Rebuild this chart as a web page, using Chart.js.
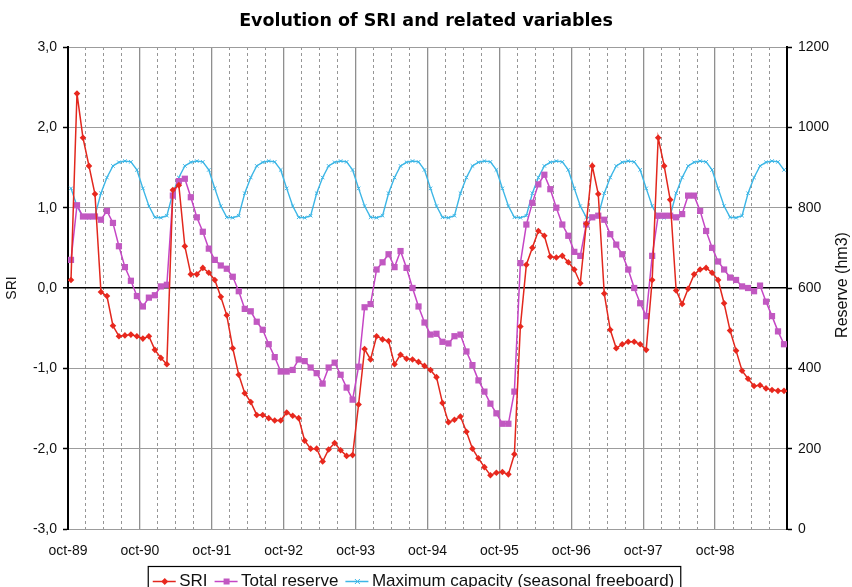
<!DOCTYPE html>
<html>
<head>
<meta charset="utf-8">
<script src="https://cdn.jsdelivr.net/npm/chart.js@4.4.1/dist/chart.umd.min.js"></script>
<style>
  html, body { margin: 0; padding: 0; background: #fff; }
</style>
</head>
<body>
<canvas id="chart" width="852" height="587"></canvas>
<script>
  // x axis tick labels, one per hydrological year (month index 0, 12, 24 ...)
  const yearLabels = ['oct-89', 'oct-90', 'oct-91', 'oct-92', 'oct-93', 'oct-94', 'oct-95', 'oct-96', 'oct-97', 'oct-98'];

  // SRI, monthly values oct-89 .. sep-99
  const sri = [
    0.10, 2.42, 1.87, 1.52, 1.17, -0.05, -0.10, -0.47, -0.60, -0.59, -0.58, -0.60,
    -0.63, -0.60, -0.77, -0.87, -0.95, 1.22, 1.28, 0.52, 0.17, 0.17, 0.25, 0.19,
    0.10, -0.11, -0.34, -0.75, -1.08, -1.31, -1.42, -1.58, -1.58, -1.62, -1.65, -1.65,
    -1.55, -1.59, -1.62, -1.90, -2.00, -2.00, -2.16, -2.01, -1.93, -2.02, -2.09, -2.08,
    -1.45, -0.76, -0.89, -0.60, -0.64, -0.66, -0.95, -0.83, -0.88, -0.89, -0.92, -0.97,
    -1.02, -1.11, -1.43, -1.67, -1.64, -1.60, -1.79, -2.00, -2.12, -2.23, -2.33, -2.30,
    -2.29, -2.32, -2.07, -0.48, 0.29, 0.50, 0.71, 0.65, 0.39, 0.38, 0.40, 0.32,
    0.23, 0.06, 0.80, 1.52, 1.17, -0.07, -0.52, -0.75, -0.70, -0.67, -0.67, -0.70,
    -0.77, 0.10, 1.87, 1.52, 1.10, -0.03, -0.20, -0.01, 0.17, 0.23, 0.25, 0.19,
    0.10, -0.19, -0.53, -0.78, -1.03, -1.13, -1.22, -1.21, -1.25, -1.27, -1.28, -1.28
  ];

  // total reserve (hm3)
  const totalReserve = [
    670, 806, 778, 778, 778, 770, 792, 762, 704, 652, 618, 580,
    554, 576, 582, 604, 608, 830, 866, 872, 826, 776, 740, 698,
    670, 656, 648, 628, 592, 548, 542, 516, 496, 460, 428, 392,
    392, 396, 422, 418, 402, 388, 362, 402, 414, 384, 352, 322,
    404, 552, 560, 646, 664, 684, 652, 692, 650, 600, 554, 514,
    484, 486, 466, 462, 480, 484, 442, 408, 370, 342, 312, 288,
    262, 262, 342, 662, 758, 812, 858, 882, 846, 800, 758, 730,
    690, 680, 758, 776, 780, 770, 734, 708, 684, 646, 600, 562,
    530, 680, 780, 780, 780, 776, 784, 830, 830, 792, 742, 700,
    666, 646, 626, 620, 604, 600, 592, 606, 566, 530, 492, 460
  ];

  // maximum capacity with seasonal freeboard (hm3)
  const maxCapacity = [
    848, 804, 776, 775, 780, 836, 875, 904, 913, 916, 914, 894,
    848, 804, 776, 775, 780, 836, 875, 904, 913, 916, 914, 894,
    848, 804, 776, 775, 780, 836, 875, 904, 913, 916, 914, 894,
    848, 804, 776, 775, 780, 836, 875, 904, 913, 916, 914, 894,
    848, 804, 776, 775, 780, 836, 875, 904, 913, 916, 914, 894,
    848, 804, 776, 775, 780, 836, 875, 904, 913, 916, 914, 894,
    848, 804, 776, 775, 780, 836, 875, 904, 913, 916, 914, 894,
    848, 804, 776, 775, 780, 836, 875, 904, 913, 916, 914, 894,
    848, 804, 776, 775, 780, 836, 875, 904, 913, 916, 914, 894,
    848, 804, 776, 775, 780, 836, 875, 904, 913, 916, 914, 894
  ];

  // points sit in the middle of each month
  const toPoints = arr => arr.map((v, i) => ({ x: i + 0.5, y: v }));

  // draws line+marker symbols and the frame of the legend, and the right axis title
  const decorations = {
    id: 'decorations',
    afterLayout(chart) {
      const lg = chart.legend;
      lg.left -= 12; lg.right -= 12;
      lg.top += 13; lg.bottom += 13;
      // x labels are clipped to the scale box, give them room
      chart.scales.x.bottom += 14;
    },
    afterDraw(chart) {
      const ctx = chart.ctx;
      const boxes = chart.legend.legendHitBoxes;
      ctx.save();
      boxes.forEach((b, i) => {
        const ds = chart.data.datasets[i];
        const cy = b.top + b.height / 2;
        const cx = b.left + 11;
        ctx.strokeStyle = ds.borderColor;
        ctx.fillStyle = ds.pointBackgroundColor;
        ctx.lineWidth = 1.5;
        ctx.beginPath(); ctx.moveTo(b.left - 1, cy); ctx.lineTo(b.left + 22, cy); ctx.stroke();
        ctx.beginPath();
        if (ds.pointStyle === 'rectRot') {
          ctx.moveTo(cx, cy - 3.5); ctx.lineTo(cx + 3.5, cy); ctx.lineTo(cx, cy + 3.5); ctx.lineTo(cx - 3.5, cy);
          ctx.closePath(); ctx.fill();
        } else if (ds.pointStyle === 'rect') {
          ctx.rect(cx - 3, cy - 3, 6, 6); ctx.fill();
        } else {
          ctx.lineWidth = 1;
          ctx.moveTo(cx - 2.5, cy - 2.5); ctx.lineTo(cx + 2.5, cy + 2.5);
          ctx.moveTo(cx - 2.5, cy + 2.5); ctx.lineTo(cx + 2.5, cy - 2.5);
          ctx.stroke();
        }
      });
      const first = boxes[0], last = boxes[boxes.length - 1];
      ctx.strokeStyle = '#000';
      ctx.lineWidth = 1.2;
      ctx.strokeRect(first.left - 5.5, 566.5, last.left + last.width - first.left + 12, 40);

      // right axis title, reading bottom to top
      const a = chart.chartArea;
      ctx.fillStyle = '#111';
      ctx.font = '16px "Liberation Sans", Arial, sans-serif';
      ctx.textAlign = 'center';
      ctx.textBaseline = 'middle';
      ctx.translate(chart.width - 9, (a.top + a.bottom) / 2 - 3);
      ctx.rotate(-Math.PI / 2);
      ctx.fillText('Reserve (hm3)', 0, 0);
      ctx.restore();
    }
  };

  const tickFont = { family: '"Liberation Sans", Arial, sans-serif', size: 14 };

  new Chart(document.getElementById('chart'), {
    type: 'line',
    data: {
      datasets: [{
        label: 'SRI',
        data: toPoints(sri),
        yAxisID: 'y',
        borderColor: '#e2271d',
        backgroundColor: '#e2271d',
        pointBackgroundColor: '#e8281e',
        pointBorderWidth: 0,
        borderWidth: 1.5,
        pointStyle: 'rectRot',
        pointRadius: 3.3,
        tension: 0
      }, {
        label: 'Total reserve',
        data: toPoints(totalReserve),
        yAxisID: 'y1',
        borderColor: '#c545c5',
        backgroundColor: '#c545c5',
        pointBackgroundColor: '#c158c1',
        pointBorderWidth: 0,
        borderWidth: 1.5,
        pointStyle: 'rect',
        pointRadius: 4.4,
        tension: 0
      }, {
        label: 'Maximum capacity (seasonal freeboard)',
        data: toPoints(maxCapacity),
        yAxisID: 'y1',
        borderColor: '#3cb6e6',
        backgroundColor: '#3cb6e6',
        pointBackgroundColor: '#3cb6e6',
        pointBorderColor: '#3cb6e6',
        pointBorderWidth: 1,
        borderWidth: 1.4,
        pointStyle: 'crossRot',
        pointRadius: 2.5,
        tension: 0
      }]
    },
    options: {
      responsive: false,
      animation: false,
      devicePixelRatio: 1,
      layout: { padding: 0 },
      scales: {
        x: {
          type: 'linear',
          min: 0,
          max: 120,
          afterFit(scale) { scale.height = 23; },
          afterBuildTicks(scale) {
            const t = [];
            for (let v = 0; v <= 120; v += 3) t.push({ value: v });
            scale.ticks = t;
          },
          ticks: {
            autoSkip: false,
            maxRotation: 0,
            padding: 14,
            color: '#111',
            font: tickFont,
            callback: v => (v % 12 === 0 && yearLabels[v / 12]) ? yearLabels[v / 12] : ''
          },
          grid: {
            drawTicks: false,
            color: c => (c.tick && c.tick.value % 12 === 0) ? '#8f8f8f' : '#969696',
            lineWidth: c => (c.tick && c.tick.value % 12 === 0) ? 1.3 : 1
          },
          border: {
            color: '#9c9c9c',
            width: 1,
            dash: c => (c.tick && c.tick.value % 12 !== 0) ? [3, 3] : []
          }
        },
        y: {
          position: 'left',
          min: -3,
          max: 3,
          afterFit(scale) { scale.width = 68; },
          ticks: {
            stepSize: 1,
            padding: 6,
            color: '#111',
            font: tickFont,
            callback: v => v.toFixed(1).replace('.', ',')
          },
          grid: {
            tickLength: 5,
            tickColor: '#000',
            tickWidth: 1.5,
            color: c => (c.tick && c.tick.value === 0) ? '#000' : '#9c9c9c',
            lineWidth: c => (c.tick && c.tick.value === 0) ? 1.6 : 1
          },
          border: { color: '#000', width: 2 },
          title: {
            display: true,
            text: 'SRI',
            color: '#111',
            font: { family: '"Liberation Sans", Arial, sans-serif', size: 14 },
            padding: { top: 4, bottom: 0 }
          }
        },
        y1: {
          position: 'right',
          min: 0,
          max: 1200,
          afterFit(scale) { scale.width = 65; },
          ticks: {
            stepSize: 200,
            padding: 6,
            color: '#111',
            font: tickFont,
            callback: v => String(v)
          },
          grid: {
            drawOnChartArea: false,
            tickLength: 5,
            tickColor: '#000',
            tickWidth: 1.5
          },
          border: { color: '#000', width: 2 }
        }
      },
      plugins: {
        title: {
          display: true,
          text: 'Evolution of SRI and related variables',
          color: '#000',
          font: { family: '"DejaVu Sans", sans-serif', size: 17.5, weight: 'bold' },
          padding: { top: 11, bottom: 15 }
        },
        legend: {
          position: 'bottom',
          labels: {
            boxWidth: 17,
            boxHeight: 0,
            padding: 8,
            color: '#111',
            font: { family: '"Liberation Sans", Arial, sans-serif', size: 17 },
            generateLabels(chart) {
              return Chart.defaults.plugins.legend.labels.generateLabels(chart).map(l =>
                Object.assign(l, { lineWidth: 0, fillStyle: 'rgba(0,0,0,0)', strokeStyle: 'rgba(0,0,0,0)' }));
            }
          }
        },
        tooltip: { enabled: false }
      }
    },
    plugins: [decorations]
  });
</script>
</body>
</html>
